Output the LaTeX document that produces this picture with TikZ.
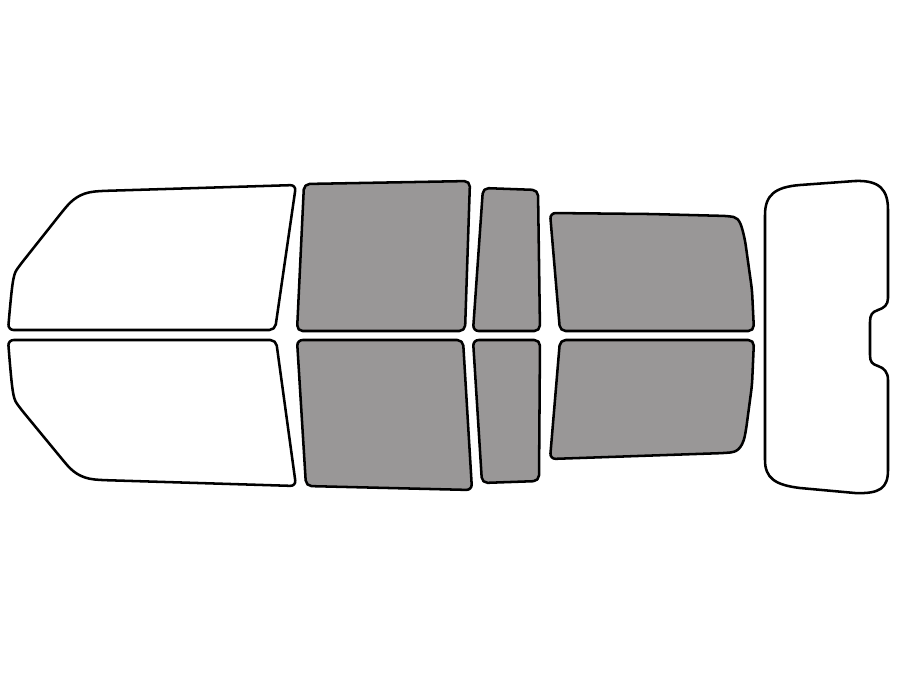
\documentclass[tikz,border=0pt]{standalone}
\begin{document}
\begin{tikzpicture}[x=0.25mm,y=-0.25mm,
  win/.style={draw=black,line width=1.8pt,rounded corners=4pt,line join=round}]
\useasboundingbox (0,0) rectangle (900,675);
\definecolor{tg}{RGB}{153,151,151}
\tikzset{tint/.style={win,fill=tg}}
% front left
\draw[win] (140,330) -- (275,330) -- (296,185) -- (100,191) .. controls (80,193) and (72,200) .. (62,212) -- (20,265) .. controls (13,275) and (12,285) .. (8,330) -- cycle;
\draw[win] (140,340) -- (276,340) -- (296,486) -- (100,480) .. controls (80,478) and (72,471) .. (62,459) -- (20,408) .. controls (13,398) and (12,390) .. (8,340) -- cycle;
% front doors
\draw[tint] (304,184) -- (470,181) -- (465,331) -- (297,331) -- cycle;
\draw[tint] (297,340) -- (463,340) -- (472,490) -- (306,486) -- cycle;
% small
\draw[tint] (483,188) -- (538,190) -- (540,331) -- (473,331) -- cycle;
\draw[tint] (473,340) -- (540,340) -- (539,481) -- (482,483) -- cycle;
% rear
\draw[tint] (650,214) -- (728,216) .. controls (740,218) and (742,228) .. (745,240) -- (752,290) -- (754,331) -- (560,331) -- (550,213) -- cycle;
\draw[tint] (650,340) -- (754,340) -- (752,385) -- (746,430) .. controls (742,450) and (735,452) .. (725,453) -- (550,459) -- (560,340) -- cycle;
% rear window
\draw[win,rounded corners=0pt] (765,300) -- (765,215) .. controls (765,195) and (775,187) .. (800,185) -- (855,181) .. controls (880,180) and (888,190) .. (888,210) -- (888,298) .. controls (888,305) and (884,308) .. (878,310) .. controls (872,312) and (870,315) .. (870,322) -- (870,355) .. controls (870,362) and (872,364) .. (878,366) .. controls (884,368) and (888,372) .. (888,380) -- (888,470) .. controls (888,488) and (880,494) .. (855,493) -- (800,488) .. controls (775,485) and (765,478) .. (765,460) -- cycle;
\end{tikzpicture}
\end{document}
